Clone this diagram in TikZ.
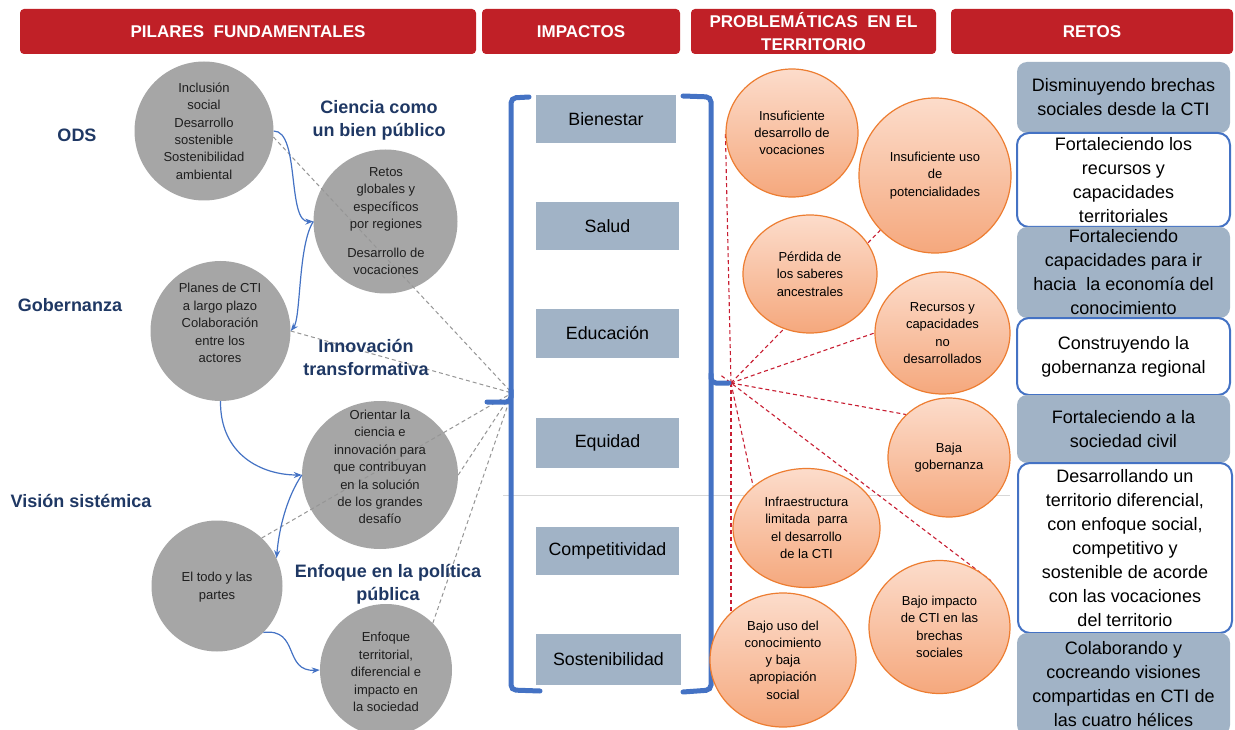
\documentclass[tikz,border=0pt]{standalone}
\usepackage{fontspec}
\setmainfont{Liberation Sans}
\usetikzlibrary{arrows.meta,shapes.geometric,calc,backgrounds}
\definecolor{hdrred}{RGB}{192,32,39}
\definecolor{navy}{RGB}{31,56,100}
\definecolor{circgray}{RGB}{166,166,166}
\definecolor{txtdark}{RGB}{30,30,30}
\definecolor{boxblue}{RGB}{161,179,198}
\definecolor{blueline}{RGB}{68,114,196}
\definecolor{oborder}{RGB}{237,125,49}
\definecolor{otop}{RGB}{252,220,203}
\definecolor{obot}{RGB}{245,168,125}
\definecolor{dashgray}{RGB}{150,150,150}
\definecolor{reddash}{RGB}{200,30,50}
\definecolor{faint}{RGB}{215,215,215}
\begin{document}
\begin{tikzpicture}[x=1pt,y=-1pt,
  hdr/.style={fill=hdrred, rounded corners=4pt, text=white, font=\bfseries\fontsize{17}{23}\selectfont, align=center, inner sep=0pt, minimum height=45},
  ibox/.style={fill=boxblue, minimum width=143, minimum height=48, inner sep=0pt, font=\fontsize{17.8}{20}\selectfont},
  gcirc/.style={circle, fill=circgray, inner sep=0pt},
  gell/.style={ellipse, fill=circgray, inner sep=0pt},
  gtxt/.style={align=center, inner sep=0pt, text=txtdark, font=\fontsize{13}{17.4}\selectfont},
  plabel/.style={align=center, inner sep=0pt, text=navy, font=\bfseries\fontsize{18}{23}\selectfont},
  ocirc/.style={ellipse, draw=oborder, line width=1.2pt, top color=otop, bottom color=obot, align=center, inner sep=0pt, font=\fontsize{13}{17.3}\selectfont},
  rbox/.style={minimum width=213, inner sep=0pt, align=center, font=\fontsize{18}{24}\selectfont},
  rfill/.style={rbox, fill=boxblue, rounded corners=10pt},
  rwhite/.style={rbox, draw=blueline, line width=2pt, fill=white, rounded corners=12pt},
  gdash/.style={draw=dashgray, line width=1pt, dash pattern=on 4pt off 3pt},
  rdash/.style={draw=reddash, line width=1.1pt, dash pattern=on 4pt off 3pt},
  barrow/.style={draw=blueline, line width=1.2pt, -{Stealth[length=8pt,width=6pt]}},
  brk/.style={draw=blueline, line width=5pt, line cap=round, rounded corners=5pt},
]
\useasboundingbox (0,0) rectangle (1235,730);

% headers
\node[hdr, minimum width=456] (h1) at (248,31.5) {PILARES\ \ FUNDAMENTALES};
\node[hdr, minimum width=198] (h2) at (581,31.5) {IMPACTOS};
\node[hdr, minimum width=245] (h3) at (813.5,31.5) {PROBLEMÁTICAS\ \ EN EL\\TERRITORIO};
\node[hdr, minimum width=282] (h4) at (1092,31.5) {RETOS};

% gray circles
\node[gcirc, minimum size=139] (c1) at (204,131) {};
\node[gcirc, minimum size=144] (c2) at (385.5,221.5) {};
\node[gcirc, minimum size=140] (c3) at (220.5,331) {};
\node[gell, minimum width=156, minimum height=148] (c4) at (380,475) {};
\node[gcirc, minimum size=131] (c5) at (217,586) {};
\node[gcirc, minimum size=132] (c6) at (386,670) {};

\coordinate (gtip) at (512,393);
\coordinate (rtip) at (731,383);

% gray dashed connectors
\draw[gdash] (c1.-5) -- (gtip);
\draw[gdash] (c3.east) -- (gtip);
\draw[gdash] (c5.47) -- (gtip);
\draw[gdash] (c4.east) -- (gtip);
\draw[gdash] (c6.45) -- (gtip);

% gray circle texts
\node[gtxt] (t1) at (204,131) {Inclusión\\social\\Desarrollo\\sostenible\\Sostenibilidad\\ambiental};
\node[gtxt] (t2) at (386,221) {Retos\\globales y\\específicos\\por regiones\\[11pt]Desarrollo de\\vocaciones};
\node[gtxt] (t3) at (220,323) {Planes de CTI\\a largo plazo\\Colaboración\\entre los\\actores};
\node[gtxt] (t4) at (380,467) {Orientar la\\ciencia e\\innovación para\\que contribuyan\\en la solución\\de los grandes\\desafío};
\node[gtxt] (t5) at (217,587) {El todo y las\\partes};
\node[gtxt] (t6) at (386,672) {Enfoque\\territorial,\\diferencial e\\impacto en\\la sociedad};

% pillar labels
\node[plabel] (l1) at (77,135) {ODS};
\node[plabel] (l2) at (70,305) {Gobernanza};
\node[plabel] (l3) at (81,501) {Visión sistémica};
\node[plabel] (l4) at (379,120) {Ciencia como\\un bien público};
\node[plabel] (l5) at (366,357) {Innovación\\transformativa};
\node[plabel] (l6) at (388,584) {Enfoque en la política\\pública};

% blue arrows
\draw[barrow] (c1.east) .. controls (300,131) and (287,222) .. (c2.west);
\draw[barrow] (c2.west) .. controls (298,245) and (301,318) .. (c3.east);
\draw[barrow] (c3.south) .. controls (220,455) and (262,475) .. (c4.west);
\draw[barrow] (c4.west) .. controls (287,497) and (279,528) .. (c5.25);
\draw[barrow] (c5.-45) .. controls (300,628) and (283,672) .. (c6.west);

% brackets
\draw[brk] (529,97) -- (511,98) -- (511,690) -- (540,691);
\draw[brk] (511,390) |- (487,402);
\draw[brk] (683,96) -- (711,97) -- (711,690) -- (683,692);
\draw[brk] (711,374) |- (729,383);

% impact boxes
\node[ibox, minimum width=140] (i1) at (606,119) {Bienestar};
\node[ibox] (i2) at (607.5,226.5) {Salud};
\node[ibox] (i3) at (607.5,333.5) {Educación};
\node[ibox, minimum height=50] (i4) at (607.5,443) {Equidad};
\node[ibox] (i5) at (607.5,550.5) {Competitividad};
\node[ibox, minimum width=145, minimum height=51] (i6) at (608.5,659.5) {Sostenibilidad};

% orange circles
\node[ocirc, minimum width=132, minimum height=128] (o1) at (792,133) {Insuficiente\\desarrollo de\\vocaciones};
\node[ocirc, minimum width=152, minimum height=155] (o2) at (935,175.5) {Insuficiente uso\\de\\potencialidades};
\node[ocirc, minimum width=134, minimum height=118] (o3) at (810,274) {Pérdida de\\los saberes\\ancestrales};
\node[ocirc, minimum width=135, minimum height=122] (o4) at (942.5,333) {Recursos y\\capacidades\\no\\desarrollados};
\node[ocirc, minimum width=122, minimum height=119] (o5) at (949,457.5) {Baja\\gobernanza};
\node[ocirc, minimum width=147, minimum height=119] (o6) at (806.5,528) {Infraestructura\\limitada~ parra\\el desarrollo\\de la CTI};
\node[ocirc, minimum width=141, minimum height=133] (o7) at (939.5,627) {Bajo impacto\\de CTI en las\\brechas\\sociales};
\node[ocirc, minimum width=146, minimum height=134] (o8) at (783,660) {Bajo uso del\\conocimiento\\y baja\\apropiación\\social};

% background: white page, faint guide line, red dashed connectors (behind circles)
\begin{scope}[on background layer]
\fill[white] (0,0) rectangle (1235,730);
\draw[faint, line width=0.8pt] (503,495) -- (1010,495);
\draw[rdash] (rtip) -- (o1.west);
\draw[rdash] (rtip) -- (o2.225);
\draw[rdash] (rtip) -- (o4.west);
\draw[rdash] (rtip) -- (o5.135);
\draw[rdash] ($(rtip)!-12pt!(o7.42)$) -- (o7.42);
\draw[rdash] (rtip) -- (o6.142);
\draw[rdash] (rtip) -- (rtip |- o8.center);
\end{scope}

% retos boxes
\node[rfill, minimum height=71] (r1) at (1123.5,97.5) {Disminuyendo brechas\\sociales desde la CTI};
\node[rwhite, minimum height=94] (r2) at (1123.5,180) {Fortaleciendo los\\recursos y\\capacidades\\territoriales};
\node[rfill, minimum height=91] (r3) at (1123.5,272.5) {Fortaleciendo\\capacidades para ir\\hacia~ la economía del\\conocimiento};
\node[rwhite, minimum height=77] (r4) at (1123.5,356.5) {Construyendo la\\gobernanza regional};
\node[rfill, minimum height=68] (r5) at (1123.5,429) {Fortaleciendo a la\\sociedad civil};
\node[rwhite, minimum width=214, minimum height=170] (r6) at (1125,548) {Desarrollando un\\territorio diferencial,\\con enfoque social,\\competitivo y\\sostenible de acorde\\con las vocaciones\\del territorio};
\node[rfill, minimum height=102] (r7) at (1123.5,684) {Colaborando y\\cocreando visiones\\compartidas en CTI de\\las cuatro hélices};
\end{tikzpicture}
\end{document}
